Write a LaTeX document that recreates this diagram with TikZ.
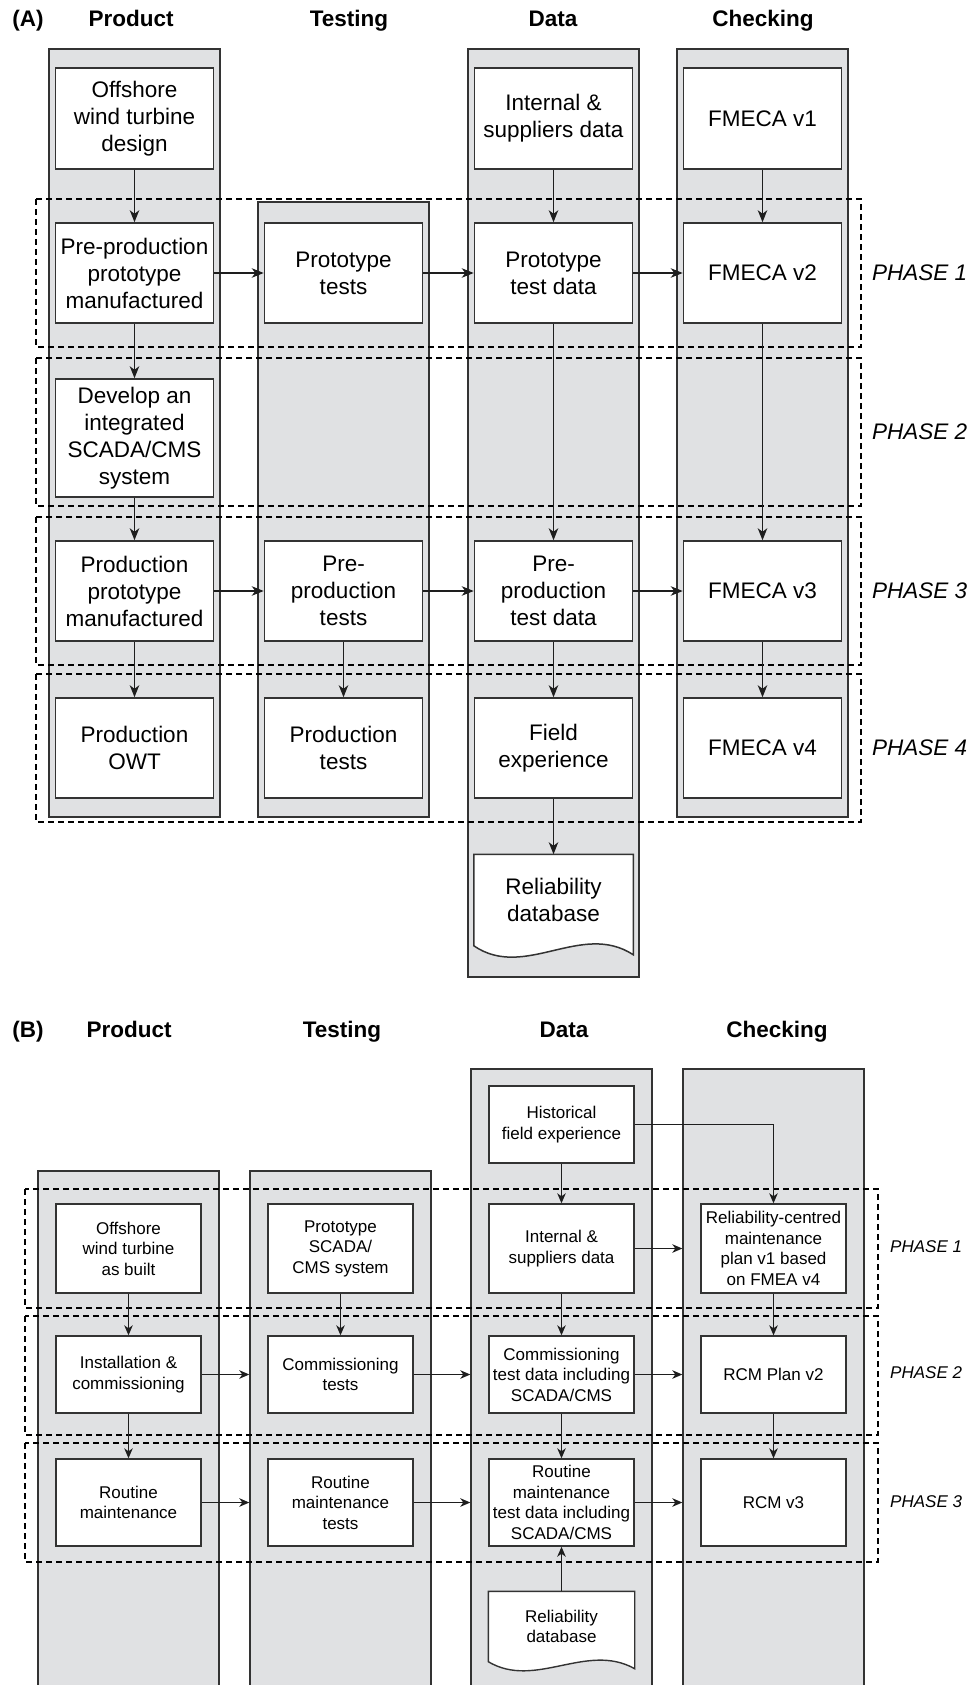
\documentclass[tikz,border=0pt]{standalone}
\usepackage{fontspec}
\setmainfont{Liberation Sans}
\usetikzlibrary{arrows.meta,calc}
\definecolor{colgray}{RGB}{224,225,227}
\definecolor{linegray}{RGB}{51,51,51}
\definecolor{arrowgray}{RGB}{30,30,30}
\begin{document}
\begin{tikzpicture}[x=1pt,y=-1pt,
  col/.style={draw=linegray, fill=colgray, line width=1.4pt, inner sep=0pt, minimum width=171pt},
  colB/.style={col, minimum width=181pt},
  boxA/.style={draw=linegray, fill=white, line width=1.5pt, minimum width=158pt, minimum height=100pt, inner sep=0pt, align=center, font=\fontsize{22.5}{27}\selectfont},
  boxB/.style={draw=linegray, fill=white, line width=1.4pt, minimum width=145pt, inner sep=0pt, align=center, font=\fontsize{17}{20.5}\selectfont},
  docA/.style={boxA, draw=none, fill=none, minimum height=90pt},
  docB/.style={boxB, draw=none, fill=none, minimum height=69pt},
  phase/.style={draw=black, line width=1.1pt, dash pattern=on 6pt off 4pt},
  arrA/.style={draw=arrowgray, line width=1.3pt, -{Stealth[length=12pt,width=9.5pt,inset=3.5pt]}},
  arrB/.style={draw=arrowgray, line width=1.2pt, -{Stealth[length=10pt,width=8.5pt,inset=3pt]}},
  hdr/.style={font=\fontsize{22.5}{27}\selectfont\bfseries, anchor=base, inner sep=0pt},
  phlabA/.style={font=\fontsize{22.5}{27}\selectfont\itshape, anchor=west, inner sep=0pt},
  phlabB/.style={font=\fontsize{17}{20.5}\selectfont\itshape, anchor=west, inner sep=0pt}
]
\useasboundingbox (0,0) rectangle (972,1685);

% ===================== PART A =====================
\node[hdr] (hA) at (28,27) {(A)};
\node[hdr] (hAp) at (131,27) {Product};
\node[hdr] (hAt) at (349,27) {Testing};
\node[hdr] (hAd) at (553,27) {Data};
\node[hdr] (hAc) at (763,27) {Checking};

\node[col, minimum height=768pt] (cAp) at (134.5,433) {};
\node[col, minimum height=615pt] (cAt) at (343.5,509.5) {};
\node[col, minimum height=928pt] (cAd) at (553.5,513) {};
\node[col, minimum height=768pt] (cAc) at (762.5,433) {};

\draw[phase] (36,199) rectangle (861,347);
\draw[phase] (36,358) rectangle (861,506);
\draw[phase] (36,517) rectangle (861,665);
\draw[phase] (36,674) rectangle (861,822);

\node[phlabA] (pA1) at (872,273) {PHASE 1};
\node[phlabA] (pA2) at (872,432) {PHASE 2};
\node[phlabA] (pA3) at (872,591) {PHASE 3};
\node[phlabA] (pA4) at (872,748) {PHASE 4};

% product
\node[boxA, minimum height=101pt] (a1) at (134.5,118.5) {Offshore\\wind turbine\\design};
\node[boxA] (a2) at (134.5,273) {Pre-production\\prototype\\manufactured};
\node[boxA, minimum height=118pt] (a3) at (134.5,438) {Develop an\\integrated\\SCADA/CMS\\system};
\node[boxA] (a4) at (134.5,591) {Production\\prototype\\manufactured};
\node[boxA] (a5) at (134.5,748) {Production\\OWT};
% testing
\node[boxA] (t2) at (343.5,273) {Prototype\\tests};
\node[boxA] (t4) at (343.5,591) {Pre-\\production\\tests};
\node[boxA] (t5) at (343.5,748) {Production\\tests};
% data
\node[boxA, minimum height=101pt] (d1) at (553.5,118.5) {Internal \&\\suppliers data};
\node[boxA] (d2) at (553.5,273) {Prototype\\test data};
\node[boxA] (d4) at (553.5,591) {Pre-\\production\\test data};
\node[boxA] (d5) at (553.5,748) {Field\\experience};
\node[docA] (dbA) at (553.5,900) {Reliability\\database};
\draw[draw=linegray, fill=white, line width=1.5pt]
  (dbA.south west) -- (dbA.north west) -- (dbA.north east) -- ($(dbA.south east)+(0,9)$)
  .. controls ($(dbA.south east)+(-52,-25)$) and ($(dbA.south west)+(51,35)$) .. (dbA.south west) -- cycle;
\node[docA] at (dbA) {Reliability\\database};
% checking
\node[boxA, minimum height=101pt] (k1) at (762.5,118.5) {FMECA v1};
\node[boxA] (k2) at (762.5,273) {FMECA v2};
\node[boxA] (k4) at (762.5,591) {FMECA v3};
\node[boxA] (k5) at (762.5,748) {FMECA v4};

% arrows A
\draw[arrA] (a1) -- (a2);
\draw[arrA] (a2) -- (a3);
\draw[arrA] (a3) -- (a4);
\draw[arrA] (a4) -- (a5);
\draw[arrA] (a2) -- (t2);
\draw[arrA] (t2) -- (d2);
\draw[arrA] (d2) -- (k2);
\draw[arrA] (d1) -- (d2);
\draw[arrA] (k1) -- (k2);
\draw[arrA] (d2) -- (d4);
\draw[arrA] (k2) -- (k4);
\draw[arrA] (a4) -- (t4);
\draw[arrA] (t4) -- (d4);
\draw[arrA] (d4) -- (k4);
\draw[arrA] (t4) -- (t5);
\draw[arrA] (d4) -- (d5);
\draw[arrA] (k4) -- (k5);
\draw[arrA] (d5) -- (dbA.north);

% ===================== PART B =====================
\node[hdr] (hB) at (28,1037) {(B)};
\node[hdr] (hBp) at (129,1037) {Product};
\node[hdr] (hBt) at (342,1037) {Testing};
\node[hdr] (hBd) at (564,1037) {Data};
\node[hdr] (hBc) at (777,1037) {Checking};

\node[colB, minimum height=529pt] (cBp) at (128.5,1435.5) {};
\node[colB, minimum height=529pt] (cBt) at (340.5,1435.5) {};
\node[colB, minimum height=631pt] (cBd) at (561.5,1384.5) {};
\node[colB, minimum height=631pt] (cBc) at (773.5,1384.5) {};

\draw[phase] (25,1189) rectangle (878,1308);
\draw[phase] (25,1316) rectangle (878,1435);
\draw[phase] (25,1443) rectangle (878,1562);

\node[phlabB] (pB1) at (890,1247) {PHASE 1};
\node[phlabB] (pB2) at (890,1373) {PHASE 2};
\node[phlabB] (pB3) at (890,1502) {PHASE 3};

% product
\node[boxB, minimum height=89pt] (p1) at (128.5,1248.5) {Offshore\\wind turbine\\as built};
\node[boxB, minimum height=77pt] (p2) at (128.5,1374.5) {Installation \&\\commissioning};
\node[boxB, minimum height=87pt] (p3) at (128.5,1502.5) {Routine\\maintenance};
% testing
\node[boxB, minimum height=89pt] (s1) at (340.5,1248.5) {Prototype\\SCADA/\\CMS system};
\node[boxB, minimum height=77pt] (s2) at (340.5,1374.5) {Commissioning\\tests};
\node[boxB, minimum height=87pt] (s3) at (340.5,1502.5) {Routine\\maintenance\\tests};
% data
\node[boxB, minimum height=77pt] (h0) at (561.5,1124.5) {Historical\\field experience};
\node[boxB, minimum height=89pt] (h1) at (561.5,1248.5) {Internal \&\\suppliers data};
\node[boxB, minimum height=77pt] (h2) at (561.5,1374.5) {Commissioning\\test data including\\SCADA/CMS};
\node[boxB, minimum height=87pt] (h3) at (561.5,1502.5) {Routine\\maintenance\\test data including\\SCADA/CMS};
\node[docB] (dbB) at (561.5,1626.5) {Reliability\\database};
\draw[draw=linegray, fill=white, line width=1.4pt]
  (dbB.south west) -- (dbB.north west) -- (dbB.north east) -- ($(dbB.south east)+(0,7)$)
  .. controls ($(dbB.south east)+(-48,-20)$) and ($(dbB.south west)+(47,28)$) .. (dbB.south west) -- cycle;
\node[docB] at (dbB) {Reliability\\database};
% checking
\node[boxB, minimum height=89pt] (c1) at (773.5,1248.5) {Reliability-centred\\maintenance\\plan v1 based\\on FMEA v4};
\node[boxB, minimum height=77pt] (c2) at (773.5,1374.5) {RCM Plan v2};
\node[boxB, minimum height=87pt] (c3) at (773.5,1502.5) {RCM v3};

% arrows B
\draw[arrB] (h0) -- (h1);
\draw[arrB] (h0.east) -| (c1.north);
\draw[arrB] (h1.east) -- (h1.east -| cBc.west);
\draw[arrB] (h1) -- (h2);
\draw[arrB] (p1) -- (p2);
\draw[arrB] (s1) -- (s2);
\draw[arrB] (c1) -- (c2);
\draw[arrB] (p2.east) -- (p2.east -| cBt.west);
\draw[arrB] (s2.east) -- (s2.east -| cBd.west);
\draw[arrB] (h2.east) -- (h2.east -| cBc.west);
\draw[arrB] (p2) -- (p3);
\draw[arrB] (h2) -- (h3);
\draw[arrB] (c2) -- (c3);
\draw[arrB] (p3.east) -- (p3.east -| cBt.west);
\draw[arrB] (s3.east) -- (s3.east -| cBd.west);
\draw[arrB] (h3.east) -- (h3.east -| cBc.west);
\draw[arrB] (dbB.north) -- (h3.south);
\end{tikzpicture}
\end{document}
